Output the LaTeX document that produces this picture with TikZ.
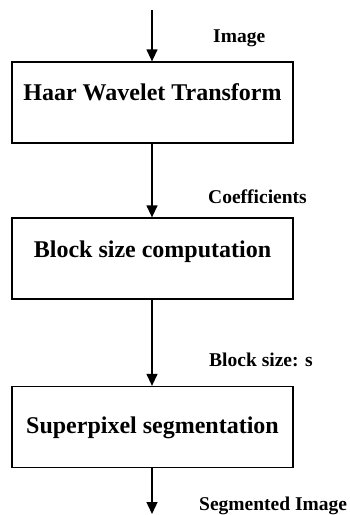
\documentclass[tikz,border=0pt]{standalone}
\usepackage{fontspec}
\setmainfont{Liberation Serif}
\usetikzlibrary{arrows.meta}
\tikzset{
	stage/.style={draw, line width=1.3pt, minimum width=281pt, minimum height=81pt, inner sep=0pt, text height=16pt, font=\bfseries\fontsize{24}{27}\selectfont},
	flow/.style={line width=1.3pt, -{Triangle[width=11pt,length=12pt]}},
	tag/.style={anchor=base west, inner sep=0pt, font=\bfseries\fontsize{19.5}{22}\selectfont}
}

\begin{document}
\begin{tikzpicture}[x=1pt,y=-1pt]
			%%%%% START %%%%%
			\useasboundingbox (0,0) rectangle (349,515);
			
			\node[stage, text depth=20pt] (haar) at (152.5,102.5) {Haar Wavelet Transform};
			\node[stage, text depth=18pt] (blocksize) at (152.5,258.5) {Block size computation};
			\node[stage, text depth=4pt] (superpixel) at (152.5,427) {Superpixel segmentation};
			
			\node[tag] (image) at (213,42) {Image};
			\node[tag] (coeff) at (208,203) {Coefficients};
			\node[tag] (sizes) at (209,366) {Block size: s};
			\node[tag] (segimg) at (199,510.5) {Segmented Image};
			
			\coordinate (in) at (152,10);
			\coordinate (out) at (152,514);
			
			\draw[flow] (in) -- (haar.north -| in);
			\draw[flow] (haar.south -| in) -- (blocksize.north -| in);
			\draw[flow] (blocksize.south -| in) -- (superpixel.north -| in);
			\draw[flow] (superpixel.south -| in) -- (out);
			
			%%%%% END %%%%%
\end{tikzpicture}
\end{document}
